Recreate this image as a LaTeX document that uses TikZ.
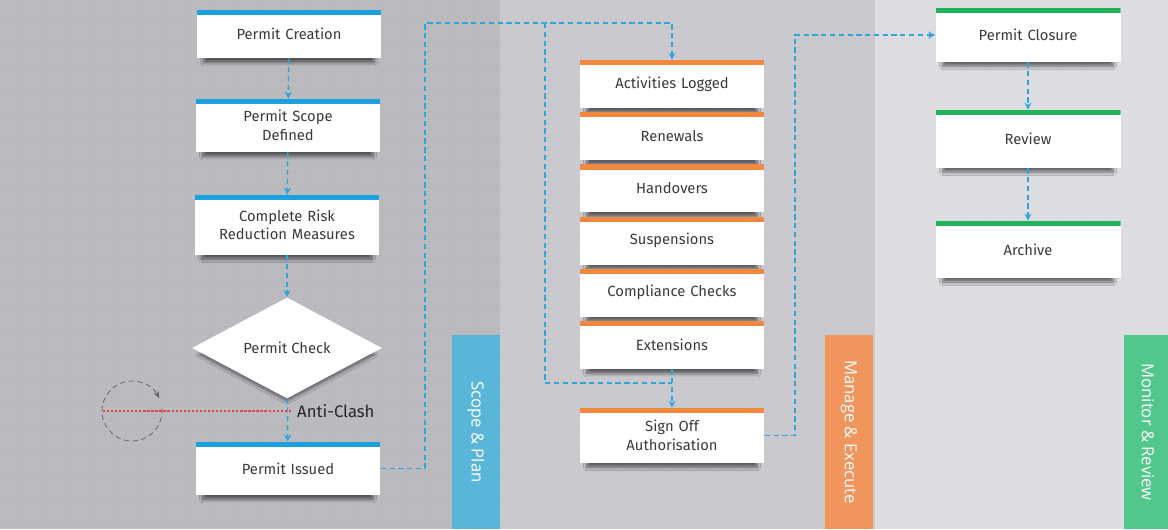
\documentclass[tikz,border=0pt]{standalone}
\usepackage{fontspec}
\setmainfont{Fira Sans}
\newfontfamily\lanefont{Open Sans}
\usetikzlibrary{shapes.geometric,arrows.meta,shadows.blur}

\definecolor{planblue}{HTML}{1BA1DD}
\definecolor{flowblue}{HTML}{2EA6DA}
\definecolor{execorange}{HTML}{F0883E}
\definecolor{reviewgreen}{HTML}{20B35A}
\definecolor{laneblue}{HTML}{5AB6D8}
\definecolor{laneorange}{HTML}{F2955C}
\definecolor{lanegreen}{HTML}{52C78C}
\definecolor{panelA}{HTML}{B9B9BE}
\definecolor{panelB}{HTML}{C9C8CD}
\definecolor{panelC}{HTML}{DDDDE1}
\definecolor{boxtext}{HTML}{3A3A3A}
\definecolor{clashred}{HTML}{E0474C}

\tikzset{
  boxshadow/.style={blur shadow={shadow xshift=0pt, shadow yshift=-4pt, shadow opacity=55, shadow scale=0.92, shadow blur steps=8}},
  stepbox/.style={fill=white, minimum width=3.7cm, text width=3.5cm, align=center, inner sep=2pt,
    text=boxtext, boxshadow,
    path picture={\fill[#1] (path picture bounding box.north west) rectangle ([yshift=-3pt]path picture bounding box.north east);}},
  flow/.style={flowblue, densely dashed, line width=0.8pt, -{Stealth[length=4pt,width=4pt]}},
  lane/.style={fill=#1, rotate=-90, minimum width=3.88cm, minimum height=0.96cm, text=white,
    font=\lanefont\fontsize{9.5}{11}\selectfont},
}

\begin{document}
\begin{tikzpicture}[x=0.02cm, y=-0.02cm, font=\fontsize{8.4}{10.5}\selectfont]
    \useasboundingbox (0,0) rectangle (1168,529);
    % panels
    \fill[panelA] (0,0) rectangle (500,529);
    \fill[panelB] (500,0) rectangle (875,529);
    \fill[panelC] (875,0) rectangle (1168,529);
    \draw[white, opacity=0.06, step=0.24cm] (0,0) grid (1168,529);

    % lane labels
    \node[lane=laneblue] (plan) at (476,432) {Scope \& Plan};
    \node[lane=laneorange] (execute) at (849,432) {Manage \& Execute};
    \node[lane=lanegreen] (monitor) at (1148,432) {Monitor \& Review};

    % scope & plan
    \node[stepbox=planblue, minimum height=0.96cm] (create) at (289,34) {Permit Creation};
    \node[stepbox=planblue, minimum height=1.06cm] (scope) at (288,125.5) {Permit Scope\\Defined};
    \node[stepbox=planblue, minimum height=1.2cm] (risk) at (287,225) {Complete Risk\\Reduction Measures};
    \node[diamond, fill=white, aspect=1.9, minimum width=3.8cm, minimum height=2.02cm, inner sep=0pt,
          text=boxtext, boxshadow] (check) at (287,348) {Permit Check};
    \node[stepbox=planblue, minimum height=1.06cm] (issued) at (288,468.5) {Permit Issued};

    % anti-clash
    \node[anchor=west, text=black!85, font=\fontsize{9.5}{11}\selectfont] (clash) at (291,411) {Anti-Clash};
    \coordinate (clashend) at (103,411);
    \coordinate (loopc) at (132,411);
    \draw[gray!75!black, densely dashed, line width=0.4pt, -{Stealth[length=4pt,width=3pt]}]
        (loopc) ++(-5:30) arc[start angle=-5, end angle=335, radius=30];
    \draw[clashred, densely dotted, line width=1.3pt] (clash.west) -- (clashend);

    % manage & execute
    \foreach \i/\name/\desc in {0/logged/Activities Logged, 1/renew/Renewals, 2/hand/Handovers,
        3/susp/Suspensions, 4/comp/Compliance Checks, 5/ext/Extensions} {
        \node[stepbox=execorange, minimum height=0.96cm] (\name) at (672,{84+52.2*\i}) {\desc};
    }
    \node[stepbox=execorange, minimum height=1.1cm] (sign) at (672,435.5) {Sign Off\\Authorisation};

    % monitor & review
    \node[stepbox=reviewgreen, minimum height=1.08cm] (closure) at (1028,35) {Permit Closure};
    \node[stepbox=reviewgreen, minimum height=1.16cm] (review) at (1028,139) {Review};
    \node[stepbox=reviewgreen, minimum height=1.14cm] (archive) at (1028,249.5) {Archive};

    % connectors
    \draw[flow] (create) -- (scope);
    \draw[flow] (scope) -- (risk);
    \draw[flow] (risk) -- (check);
    \draw[flow] (check) -- (issued);
    \coordinate (split) at (545,23);
    \coordinate (join) at (672,383);
    \draw[flow] (issued.east) -| (425,23) -| (logged.north);
    \draw[flow, -] (split) |- (join);
    \draw[flow] (ext) -- (sign);
    \draw[flow] (sign.east) -- ++(30,0) |- (closure.west);
    \draw[flow] (closure) -- (review);
    \draw[flow] (review) -- (archive);
\end{tikzpicture}
\end{document}
